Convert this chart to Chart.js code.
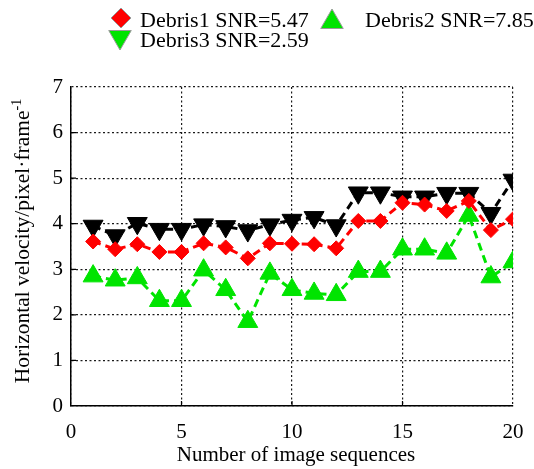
<!DOCTYPE html>
<html>
<head>
<meta charset="utf-8">
<script src="https://cdn.jsdelivr.net/npm/chart.js@4/dist/chart.umd.min.js"></script>
<style>
  html, body { margin: 0; padding: 0; background: #fff; }
  #wrap { width: 534px; height: 469px; }
</style>
</head>
<body>
<div id="wrap"><canvas id="velocity" width="534" height="469"></canvas></div>
<script>
// Horizontal velocity of three debris targets over 20 image sequences
var sequence = [1, 2, 3, 4, 5, 6, 7, 8, 9, 10, 11, 12, 13, 14, 15, 16, 17, 18, 19, 20];
var debris1 = [3.61, 3.44, 3.55, 3.38, 3.38, 3.57, 3.48, 3.24, 3.57, 3.56, 3.55, 3.46, 4.06, 4.06, 4.46, 4.42, 4.28, 4.50, 3.86, 4.10];
var debris2 = [2.85, 2.76, 2.81, 2.31, 2.31, 2.98, 2.55, 1.85, 2.91, 2.55, 2.47, 2.44, 2.95, 2.95, 3.44, 3.44, 3.35, 4.18, 2.83, 3.16];
var debris3 = [3.95, 3.74, 4.01, 3.88, 3.88, 3.98, 3.94, 3.85, 3.98, 4.08, 4.14, 3.96, 4.68, 4.68, 4.59, 4.59, 4.67, 4.67, 4.23, 4.96];
var seriesLabels = ['Debris1 SNR=5.47', 'Debris2 SNR=7.85', 'Debris3 SNR=2.59'];
var xTitle = 'Number of image sequences';
var yTitle = 'Horizontal velocity/pixel\u00b7frame';
var yTitleSup = '-1';

var RED = '#ff0000', GREEN = '#00e400', BLACK = '#000000';
var FONT = "'Liberation Serif', 'Times New Roman', serif";

function toPoints(values) {
    var pts = [];
    for (var i = 0; i < sequence.length; i++) {
        pts.push({ x: sequence[i], y: values[i] });
    }
    return pts;
}

function series(label, values, color, style, radius, rotation) {
    return {
        label: label,
        data: toPoints(values),
        borderColor: color,
        backgroundColor: color,
        borderWidth: 3,
        borderDash: [8, 5],
        pointStyle: style,
        pointRadius: radius,
        pointRotation: rotation,
        pointBackgroundColor: color,
        pointBorderColor: color,
        pointBorderWidth: 1,
        tension: 0
    };
}

// legend with its own marker set, two rows laid out from the left
var legendItems = [
    { text: seriesLabels[0], style: 'rectRot', radius: 10, rotation: 0, color: RED, mx: 121, my: 18, tx: 140, ty: 21 },
    { text: seriesLabels[1], style: 'triangle', radius: 13, rotation: 0, color: GREEN, mx: 332, my: 22, tx: 365, ty: 21 },
    { text: seriesLabels[2], style: 'triangle', radius: 13, rotation: 180, color: GREEN, mx: 120, my: 37, tx: 140, ty: 41 }
];

var decorPlugin = {
    id: 'decor',
    afterDraw: function(chart) {
        var ctx = chart.ctx;
        var area = chart.chartArea;
        var xs = chart.scales.x, ys = chart.scales.y;
        ctx.save();

        // short inward tick marks on the left and bottom axes
        ctx.strokeStyle = '#000';
        ctx.lineWidth = 1.2;
        ctx.beginPath();
        for (var v = 1; v < 7; v++) {
            var py = ys.getPixelForValue(v);
            ctx.moveTo(area.left, py);
            ctx.lineTo(area.left + 5, py);
        }
        for (var u = 5; u < 20; u += 5) {
            var px = xs.getPixelForValue(u);
            ctx.moveTo(px, area.bottom);
            ctx.lineTo(px, area.bottom - 5);
        }
        ctx.stroke();

        ctx.fillStyle = '#000';
        ctx.font = '21px ' + FONT;

        // x axis title
        ctx.textAlign = 'center';
        ctx.textBaseline = 'alphabetic';
        ctx.fillText(xTitle, 296, 461);

        // y axis title with superscript
        ctx.save();
        ctx.translate(29, 241);
        ctx.rotate(-Math.PI / 2);
        ctx.font = '21.5px ' + FONT;
        var mainW = ctx.measureText(yTitle).width;
        ctx.font = '14px ' + FONT;
        var supW = ctx.measureText(yTitleSup).width;
        var startX = -(mainW + supW) / 2;
        ctx.textAlign = 'left';
        ctx.font = '21.5px ' + FONT;
        ctx.fillText(yTitle, startX, 0);
        ctx.font = '14px ' + FONT;
        ctx.fillText(yTitleSup, startX + mainW, -8);
        ctx.restore();

        // legend
        ctx.font = '22px ' + FONT;
        ctx.textAlign = 'left';
        ctx.textBaseline = 'middle';
        for (var i = 0; i < legendItems.length; i++) {
            var it = legendItems[i];
            ctx.fillStyle = it.color;
            ctx.strokeStyle = '#9a9a9a';
            ctx.lineWidth = 1;
            Chart.helpers.drawPoint(ctx, {
                pointStyle: it.style,
                radius: it.radius,
                rotation: it.rotation,
                borderWidth: 1
            }, it.mx, it.my);
            ctx.fillStyle = '#000';
            ctx.fillText(it.text, it.tx, it.ty);
        }
        ctx.restore();
    }
};

var ctx = document.getElementById('velocity').getContext('2d');
var velocityChart = new Chart(ctx, {
    type: 'line',
    data: {
        datasets: [
            series(seriesLabels[0], debris1, RED, 'rectRot', 7.5, 0),
            series(seriesLabels[1], debris2, GREEN, 'triangle', 11.5, 0),
            series(seriesLabels[2], debris3, BLACK, 'triangle', 11.5, 180)
        ]
    },
    options: {
        responsive: false,
        animation: false,
        layout: { padding: { left: 0, top: 87, right: 21, bottom: 0 } },
        plugins: {
            legend: { display: false },
            tooltip: { enabled: false }
        },
        scales: {
            x: {
                type: 'linear',
                min: 0,
                max: 20,
                afterFit: function(scale) {
                    scale.height = 63;
                    scale.paddingLeft = 0;
                    scale.paddingRight = 0;
                },
                ticks: {
                    stepSize: 5,
                    padding: 14,
                    color: '#000',
                    font: { family: FONT, size: 21 },
                    maxRotation: 0
                },
                grid: { color: '#1a1a1a', lineWidth: 1.2, drawTicks: false },
                border: { display: true, color: '#000', width: 1.5, dash: [2, 2.5] }
            },
            y: {
                min: 0,
                max: 7,
                afterFit: function(scale) {
                    scale.width = 71;
                    scale.paddingTop = 0;
                    scale.paddingBottom = 0;
                },
                ticks: {
                    stepSize: 1,
                    padding: 8,
                    color: '#000',
                    font: { family: FONT, size: 21 }
                },
                grid: { color: '#1a1a1a', lineWidth: 1.2, drawTicks: false },
                border: { display: true, color: '#000', width: 1.5, dash: [2, 2.5] }
            }
        }
    },
    plugins: [decorPlugin]
});
</script>
</body>
</html>
